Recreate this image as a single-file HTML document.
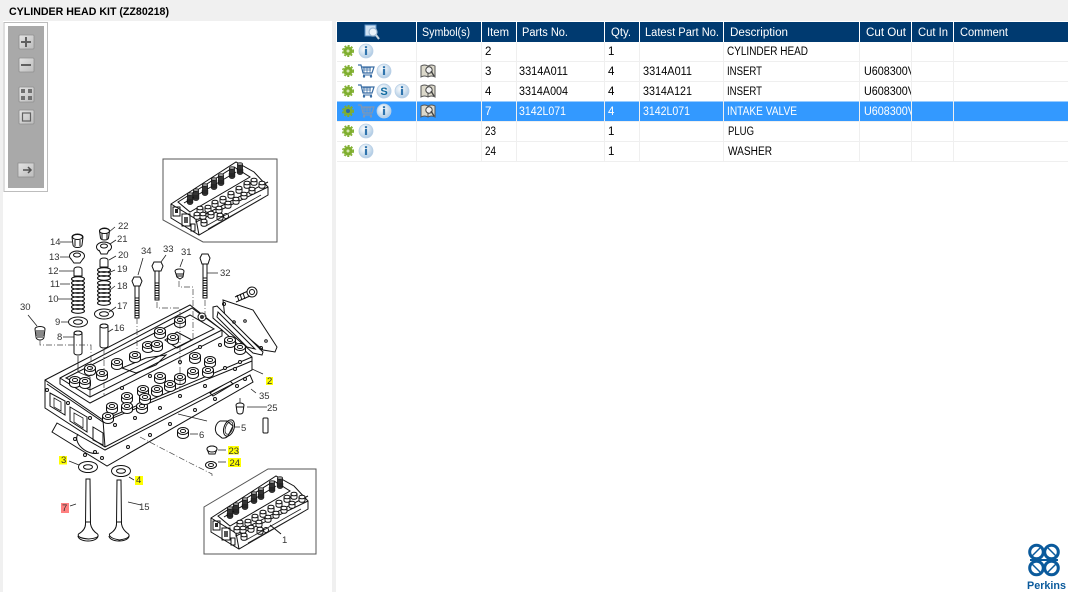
<!DOCTYPE html>
<html><head><meta charset="utf-8"><style>
html,body{margin:0;padding:0;background:#f0f0f0;width:1068px;height:592px;overflow:hidden}
svg{display:block}
.t{font:11.500px "Liberation Sans",sans-serif;fill:#000}
.h{font:11.500px "Liberation Sans",sans-serif;fill:#fff}
.w{font:11.500px "Liberation Sans",sans-serif;fill:#fff}
.l{font:9.500px "Liberation Sans",sans-serif;fill:#333}
.d{fill:#fff;stroke:#111;stroke-width:1}
.n{fill:none;stroke:#111;stroke-width:1}
.f{fill:none;stroke:#222;stroke-width:.8}
.k{fill:none;stroke:#444;stroke-width:.7;stroke-dasharray:6 2 1 2}
</style></head><body>
<svg width="1068" height="592" viewBox="0 0 1068 592" xmlns="http://www.w3.org/2000/svg">
<defs>
<clipPath id="co"><rect x="860" y="42" width="51" height="100"/></clipPath>
<radialGradient id="ig" cx=".4" cy=".35" r=".7"><stop offset="0" stop-color="#fff"/><stop offset="1" stop-color="#a9c7e2"/></radialGradient>
<linearGradient id="bt" x1="0" y1="0" x2="1" y2="1"><stop offset="0" stop-color="#e4e4e4"/><stop offset="1" stop-color="#bcbcbc"/></linearGradient>
<g id="gear"><circle r="4.600" fill="#7fae2e"/><circle r="5.300" fill="none" stroke="#7fae2e" stroke-width="1.400" stroke-dasharray="2 1.500"/><circle r="1.500" fill="#d5e6ae"/></g>
<g id="info"><circle r="7" fill="url(#ig)" stroke="#b9d0e6" stroke-width=".8"/><rect x="-1.100" y="-2" width="2.200" height="6" fill="#2f74ad"/><rect x="-1.100" y="-4.800" width="2.200" height="2" fill="#2f74ad"/></g>
<g id="cart"><path d="M-8-5h3l2 8h9l2-6H-4" fill="none" stroke="currentColor" stroke-width="1.200"/><path d="M-3-2h8M-3 0h8M-2-3v6M1-3v6M4-3v6" stroke="currentColor" stroke-width=".7" fill="none"/><path d="M-3 5h9" stroke="currentColor" stroke-width="1"/><circle cx="-2" cy="6.500" r="1.200" fill="currentColor"/><circle cx="5" cy="6.500" r="1.200" fill="currentColor"/></g>
<g id="book"><path d="M-7-5q3.500-2 7 0q3.500-2 7 0v11q-3.500-2-7 0q-3.500-2-7 0z" fill="#dcd9cb" stroke="#555" stroke-width="1"/><path d="M0-5v11" stroke="#555"/><circle cx="1" cy="-1" r="3.200" fill="#f4f4f4" stroke="#444" stroke-width="1"/><path d="M3 0l3 5" stroke="#444" stroke-width="1.400"/></g>
<g id="b"><path d="M-5.500 0v4a5.500 3.500 0 0 0 11 0v-4" class="d"/><ellipse rx="5.500" ry="3.500" class="d"/><ellipse rx="2.600" ry="1.600" class="n"/></g>
<g id="h"><circle r="1.500" class="d"/></g>
<g id="sp"><ellipse rx="6.500" ry="2.300" fill="none" stroke="#111" stroke-width="1.100"/></g>
<g id="m"><path d="M-3 0v3.500a3 1.800 0 0 0 6 0v-3.500" fill="#fff" stroke="#111" stroke-width="1"/><ellipse rx="3" ry="1.800" fill="#fff" stroke="#111" stroke-width="1"/></g>
<g id="v"><path d="M-2.500-5h5v9a2.500 1.500 0 0 1-5 0z" fill="#333" stroke="#111" stroke-width=".8"/><ellipse cy="-5" rx="2.500" ry="1.300" fill="#999" stroke="#111" stroke-width=".6"/><path d="M-3.500 1h7M-3.500 3h7" stroke="#111" stroke-width=".8"/></g>
<g id="mini">
<path d="M171 204L236 162L254 172L268 187V195L199 235L171 218Z" class="d"/>
<path d="M171 204L196 219L268 182M196 219L199 235M178 202L234 167L250 177L190 212ZM184 203L236 172M196 219L196 222L268 187" class="n"/>
<rect x="173" y="207" width="7" height="9" class="n" fill="#666"/><path d="M175 209h3v4h-3z" fill="#222"/><rect x="182" y="214" width="8" height="12" class="n"/><path d="M184 217h4v6h-4z" fill="#555"/><rect x="191" y="224" width="4" height="7" class="n"/>
<use href="#v" x="190" y="199"/><use href="#v" x="196" y="195"/><use href="#v" x="205" y="190"/><use href="#v" x="214" y="184"/><use href="#v" x="221" y="180"/><use href="#v" x="232" y="173"/><use href="#v" x="240" y="169"/>
<use href="#m" x="200" y="208"/><use href="#m" x="208" y="207"/><use href="#m" x="215" y="202"/><use href="#m" x="223" y="198"/><use href="#m" x="231" y="193"/><use href="#m" x="239" y="188"/><use href="#m" x="247" y="183"/><use href="#m" x="254" y="180"/><use href="#m" x="262" y="183"/>
<use href="#m" x="203" y="214"/><use href="#m" x="211" y="213"/><use href="#m" x="219" y="208"/><use href="#m" x="228" y="203"/><use href="#m" x="236" y="199"/><use href="#m" x="244" y="194"/><use href="#m" x="252" y="189"/><use href="#m" x="204" y="221"/><use href="#m" x="220" y="215"/><use href="#m" x="197" y="214"/>
<path d="M206 226l55-31M208 229l55-31" class="f"/><circle cx="226" cy="216" r="2.500" class="n"/>
</g>
</defs>

<!-- panels -->
<rect x="3" y="21" width="329" height="571" fill="#fff"/>
<rect x="336" y="21" width="732" height="571" fill="#fff"/>
<text x="9" y="15" font-family="Liberation Sans" font-size="11" font-weight="bold" fill="#000" textLength="160" lengthAdjust="spacingAndGlyphs">CYLINDER HEAD KIT (ZZ80218)</text>

<!-- toolbar -->
<rect x="4" y="22.500" width="43.500" height="169" fill="#fff" stroke="#bdbdbd"/>
<rect x="8" y="26" width="36" height="162" fill="#a9a9a9"/>
<g fill="url(#bt)" stroke="#8f8f8f" stroke-width=".8">
<rect x="19" y="35" width="15" height="14" rx="1"/><rect x="19" y="58" width="15" height="14" rx="1"/><rect x="19" y="87" width="15" height="15" rx="1"/><rect x="19" y="110" width="15" height="14" rx="1"/>
<rect x="18" y="163" width="16" height="14"/>
</g>
<path d="M21 42h10M26 37v10" stroke="#606060" stroke-width="2"/><path d="M21 65h10" stroke="#606060" stroke-width="2"/>
<g fill="#707070"><rect x="21" y="89" width="4" height="4"/><rect x="28" y="89" width="4" height="4"/><rect x="21" y="96" width="4" height="4"/><rect x="28" y="96" width="4" height="4"/></g>
<rect x="22.500" y="113" width="8" height="8" fill="none" stroke="#606060" stroke-width="1.200"/>
<path d="M23 170h8m-3-3l3 3-3 3" stroke="#505050" stroke-width="1.500" fill="none"/>

<!-- table -->
<rect x="337" y="22" width="731" height="20" fill="#003a70"/>
<rect x="337" y="101.500" width="731" height="20" fill="#3399ff"/>
<g fill="#efefef">
<rect x="337" y="61" width="731" height="1"/><rect x="337" y="81" width="731" height="1"/><rect x="337" y="121" width="731" height="1"/><rect x="337" y="141" width="731" height="1"/><rect x="337" y="161" width="731" height="1"/>
</g>
<g fill="#fff"><rect x="416" y="22" width="1" height="20"/><rect x="481" y="22" width="1" height="20"/><rect x="516" y="22" width="1" height="20"/><rect x="604" y="22" width="1" height="20"/><rect x="639" y="22" width="1" height="20"/><rect x="723" y="22" width="1" height="20"/><rect x="859" y="22" width="1" height="20"/><rect x="911" y="22" width="1" height="20"/><rect x="953" y="22" width="1" height="20"/></g>
<g fill="#efefef"><rect x="416" y="42" width="1" height="120"/><rect x="481" y="42" width="1" height="120"/><rect x="516" y="42" width="1" height="120"/><rect x="604" y="42" width="1" height="120"/><rect x="639" y="42" width="1" height="120"/><rect x="723" y="42" width="1" height="120"/><rect x="859" y="42" width="1" height="120"/><rect x="911" y="42" width="1" height="120"/><rect x="953" y="42" width="1" height="120"/></g>

<!-- header -->
<g transform="translate(372,32)"><rect x="-7" y="-7" width="11" height="11" fill="#cfe2f3" stroke="#5b93c7"/><circle cx="1" cy="0" r="4" fill="#e9f2fa" stroke="#9db9d3" stroke-width="1.200"/><path d="M4 3l3 4" stroke="#c8d4de" stroke-width="2"/></g>
<text class="h" x="422" y="36" textLength="48" lengthAdjust="spacingAndGlyphs">Symbol(s)</text>
<text class="h" x="487" y="36" textLength="22" lengthAdjust="spacingAndGlyphs">Item</text>
<text class="h" x="522" y="36" textLength="46" lengthAdjust="spacingAndGlyphs">Parts No.</text>
<text class="h" x="611" y="36" textLength="20" lengthAdjust="spacingAndGlyphs">Qty.</text>
<text class="h" x="645" y="36" textLength="74" lengthAdjust="spacingAndGlyphs">Latest Part No.</text>
<text class="h" x="730" y="36" textLength="58" lengthAdjust="spacingAndGlyphs">Description</text>
<text class="h" x="866" y="36" textLength="40" lengthAdjust="spacingAndGlyphs">Cut Out</text>
<text class="h" x="918" y="36" textLength="30" lengthAdjust="spacingAndGlyphs">Cut In</text>
<text class="h" x="960" y="36" textLength="48" lengthAdjust="spacingAndGlyphs">Comment</text>

<!-- rows -->
<text class="t" x="485" y="55">2</text><text class="t" x="608" y="55">1</text><text class="t" x="727" y="55" textLength="81" lengthAdjust="spacingAndGlyphs">CYLINDER HEAD</text>
<text class="t" x="485" y="75">3</text><text class="t" x="519" y="75" textLength="49" lengthAdjust="spacingAndGlyphs">3314A011</text><text class="t" x="608" y="75">4</text><text class="t" x="643" y="75" textLength="49" lengthAdjust="spacingAndGlyphs">3314A011</text><text class="t" x="727" y="75" textLength="35" lengthAdjust="spacingAndGlyphs">INSERT</text>
<text class="t" x="485" y="95">4</text><text class="t" x="519" y="95" textLength="49" lengthAdjust="spacingAndGlyphs">3314A004</text><text class="t" x="608" y="95">4</text><text class="t" x="643" y="95" textLength="49" lengthAdjust="spacingAndGlyphs">3314A121</text><text class="t" x="727" y="95" textLength="35" lengthAdjust="spacingAndGlyphs">INSERT</text>
<text class="w" x="485" y="115">7</text><text class="w" x="519" y="115" textLength="47" lengthAdjust="spacingAndGlyphs">3142L071</text><text class="w" x="608" y="115">4</text><text class="w" x="643" y="115" textLength="47" lengthAdjust="spacingAndGlyphs">3142L071</text><text class="w" x="727" y="115" textLength="70" lengthAdjust="spacingAndGlyphs">INTAKE VALVE</text>
<text class="t" x="485" y="135" textLength="11" lengthAdjust="spacingAndGlyphs">23</text><text class="t" x="608" y="135">1</text><text class="t" x="728" y="135" textLength="26" lengthAdjust="spacingAndGlyphs">PLUG</text>
<text class="t" x="485" y="155" textLength="11" lengthAdjust="spacingAndGlyphs">24</text><text class="t" x="608" y="155">1</text><text class="t" x="728" y="155" textLength="44" lengthAdjust="spacingAndGlyphs">WASHER</text>
<g clip-path="url(#co)"><text class="t" x="864" y="75" textLength="51" lengthAdjust="spacingAndGlyphs">U608300V</text><text class="t" x="864" y="95" textLength="51" lengthAdjust="spacingAndGlyphs">U608300V</text><text class="w" x="864" y="115" textLength="51" lengthAdjust="spacingAndGlyphs">U608300V</text></g>

<!-- row icons -->
<use href="#gear" x="348" y="51"/><use href="#info" x="366" y="51"/>
<use href="#gear" x="348" y="71"/><use href="#cart" x="366" y="70" color="#3a6ea5"/><use href="#info" x="384" y="71"/><use href="#book" x="428" y="71"/>
<use href="#gear" x="348" y="91"/><use href="#cart" x="366" y="90" color="#3a6ea5"/><circle cx="384" cy="91" r="7" fill="url(#ig)" stroke="#b9d0e6"/><text x="384" y="95" text-anchor="middle" font-family="Liberation Sans" font-size="11" font-weight="bold" fill="#0d6aa0">S</text><use href="#info" x="402" y="91"/><use href="#book" x="428" y="91"/>
<use href="#gear" x="348" y="111"/><circle cx="348" cy="111" r="2" fill="#2b6aa8"/><use href="#cart" x="366" y="110" color="#7f97b5"/><use href="#info" x="384" y="111"/><use href="#book" x="428" y="111"/>
<use href="#gear" x="348" y="131"/><use href="#info" x="366" y="131"/><use href="#gear" x="348" y="151"/><use href="#info" x="366" y="151"/>

<!-- Perkins -->
<g fill="none" stroke="#0a5a9c" stroke-width="3">
<circle cx="1036.500" cy="552" r="6.800"/><circle cx="1051.500" cy="552" r="6.800"/><circle cx="1036.500" cy="568" r="6.800"/><circle cx="1051.500" cy="568" r="6.800"/>
<path d="M1032 556l8-8M1056 556l-8-8M1032 564l8 8M1056 564l-8 8" stroke-width="1.500"/>
<path d="M1030 560h28" stroke-width="2"/>
</g>
<text x="1027" y="589" font-family="Liberation Sans" font-size="11" font-weight="bold" fill="#0a5a9c" textLength="39" lengthAdjust="spacingAndGlyphs">Perkins</text>

<!-- inset frames -->
<path d="M163 159H277V242H203L163 220Z" fill="#fff" stroke="#555"/>
<path d="M268 469H316V554H204V507Z" fill="#fff" stroke="#555"/>
<use href="#mini"/>
<use href="#mini" x="40" y="314"/>
<path d="M270 525l11 9" class="n"/>
<text class="l" x="282" y="543">1</text>

<!-- gasket -->
<path d="M52 432L57 423L105 450L250 375L253 382L107 466Z" class="d"/>
<path d="M210 393l20-12 3 3-20 12z" class="n"/>
<circle cx="75" cy="439" r="1.500" class="n"/><circle cx="95" cy="452" r="1.500" class="n"/><circle cx="85" cy="455" r="1.500" class="n"/><circle cx="102" cy="458" r="1.500" class="n"/><circle cx="128" cy="447" r="1.500" class="n"/><circle cx="150" cy="435" r="1.500" class="n"/><circle cx="170" cy="424" r="1.500" class="n"/><circle cx="195" cy="410" r="1.500" class="n"/><circle cx="215" cy="399" r="1.500" class="n"/><circle cx="237" cy="386" r="1.500" class="n"/><circle cx="245" cy="379" r="1.500" class="n"/>
<path d="M78 434a15 10 30 0 0 21 19" class="n"/>
<!-- rear plates -->
<path d="M223 300L253 310L277 347L275 352L263 350L225 318Z" class="d"/>
<path d="M213 307L217 306L263 352L262 355L253 353L213 318Z" class="d"/>
<path d="M218 312L255 349L247 347L217 317Z" class="n"/>
<circle cx="245" cy="321" r="1.300" class="n"/><circle cx="266" cy="341" r="1.300" class="n"/><circle cx="224" cy="304" r="1.500" class="n"/><circle cx="261" cy="348" r="1.500" class="n"/><circle cx="234" cy="322" r="1.300" class="n"/>
<path d="M235 297L248 291M236 302L250 296" class="n"/><path d="M237 295l2 6M240 294l2 6M243 293l2 6" class="n"/><circle cx="252" cy="292" r="5" class="d"/><circle cx="252" cy="292" r="2.500" class="n"/>

<!-- head -->
<path d="M45 380L190 305L222 330L252 357V370L105 447L45 408Z" class="d" stroke-width="1.200"/>
<path d="M45 380L103 420L252 357M103 420L105 447M47 384L103 422L252 361" class="n"/>
<path d="M60 378L192 308L222 330V336L90 403L60 384Z" class="d"/>
<path d="M60 378L90 397L222 330M66 378L190 315L214 329L90 390Z" class="n"/>
<path d="M50 393L65 401V415L50 406ZM70 407L87 417V432L70 421ZM93 427L103 433V445L93 440Z" class="n"/>
<path d="M54 398l7 4v9l-7-4zM74 413l9 5v10l-9-6z" class="f"/>
<circle cx="47" cy="390" r="1.500" class="n"/><circle cx="68" cy="403" r="1.500" class="n"/><circle cx="90" cy="418" r="1.500" class="n"/>
<path d="M122 368l14 5 20-8 10-10-20 3z" class="n"/><path d="M165 340l12-8 15 8-15 8z" class="n"/>

<!-- bosses in rail -->
<use href="#b" x="75" y="380"/><use href="#b" x="85" y="381"/><use href="#b" x="90" y="368"/><use href="#b" x="102" y="373"/><use href="#b" x="117" y="362"/><use href="#b" x="135" y="355"/>
<use href="#b" x="148" y="345"/><use href="#b" x="160" y="331"/><use href="#b" x="173" y="337"/><use href="#b" x="157" y="344"/><use href="#b" x="180" y="320"/>
<circle cx="202" cy="317" r="4" class="d"/><circle cx="202" cy="317" r="2" fill="#333"/>
<circle cx="92" cy="351" r="0" />
<!-- bosses on deck -->
<use href="#b" x="230" y="340"/><use href="#b" x="240" y="347"/><use href="#b" x="195" y="356"/><use href="#b" x="210" y="360"/><use href="#b" x="193" y="371"/><use href="#b" x="208" y="370"/>
<use href="#b" x="180" y="377"/><use href="#b" x="160" y="376"/><use href="#b" x="170" y="384"/><use href="#b" x="157" y="389"/>
<use href="#b" x="127" y="396"/><use href="#b" x="143" y="389"/><use href="#b" x="127" y="406"/><use href="#b" x="142" y="406"/><use href="#b" x="145" y="397"/><use href="#b" x="112" y="406"/><use href="#b" x="108" y="416"/>
<use href="#h" x="220" y="345"/><use href="#h" x="200" y="347"/><use href="#h" x="180" y="362"/><use href="#h" x="150" y="376"/><use href="#h" x="122" y="388"/><use href="#h" x="240" y="362"/><use href="#h" x="225" y="368"/>
<use href="#h" x="115" y="425"/><use href="#h" x="135" y="418"/><use href="#h" x="160" y="408"/><use href="#h" x="180" y="396"/><use href="#h" x="205" y="386"/><use href="#h" x="235" y="369"/>

<!-- left stack -->
<path d="M72 237a5.500 3 0 0 1 11 0l-1 8a4.500 2.500 0 0 1-9 0z" class="d"/><ellipse cx="77.500" cy="237" rx="5" ry="2.500" class="n"/><path d="M75 240v6M80 240v6" class="n"/>
<ellipse cx="77" cy="256" rx="7.500" ry="5" class="d"/><path d="M71 259l3 4h6l3-4" class="d"/><ellipse cx="77" cy="255" rx="3.500" ry="2" class="n"/>
<path d="M74 269v7h8v-7a4 2 0 0 0-8 0z" class="d"/>
<use href="#sp" x="78" y="279"/><use href="#sp" x="78" y="283"/><use href="#sp" x="78" y="287"/>
<use href="#sp" x="78" y="291"/><use href="#sp" x="78" y="295"/><use href="#sp" x="78" y="299"/><use href="#sp" x="78" y="303"/><use href="#sp" x="78" y="307"/><use href="#sp" x="78" y="311"/>
<ellipse cx="78" cy="322" rx="9.500" ry="5" class="d"/><ellipse cx="78" cy="322" rx="4.500" ry="2.300" class="n"/>
<path d="M74 333v20a4 2 0 0 0 8 0v-20a4 2 0 0 0-8 0z" class="d"/><ellipse cx="78" cy="333" rx="4" ry="2" class="n"/>
<path d="M78 356V372M78 372l12 5V397" class="f"/>
<!-- right stack -->
<path d="M99.500 231a5 3 0 0 1 10 0l-1 7a4 2 0 0 1-8 0z" class="d"/><ellipse cx="104.500" cy="231" rx="5" ry="2.500" class="n"/><path d="M102 233v6M107 233v6" class="n"/>
<ellipse cx="104" cy="247" rx="7.500" ry="5" class="d"/><path d="M99 250l2 4h6l2-4" class="d"/><ellipse cx="104" cy="246" rx="3.500" ry="2" class="n"/>
<path d="M100 260v7h8v-7a4 2 0 0 0-8 0z" class="d"/>
<use href="#sp" x="104" y="270"/><use href="#sp" x="104" y="274"/><use href="#sp" x="104" y="278"/>
<use href="#sp" x="104" y="283"/><use href="#sp" x="104" y="287"/><use href="#sp" x="104" y="291"/><use href="#sp" x="104" y="295"/><use href="#sp" x="104" y="299"/><use href="#sp" x="104" y="303"/>
<ellipse cx="104" cy="314" rx="9.500" ry="5" class="d"/><ellipse cx="104" cy="314" rx="4.500" ry="2.300" class="n"/>
<path d="M100 326v20a4 2 0 0 0 8 0v-20a4 2 0 0 0-8 0z" class="d"/><ellipse cx="104" cy="326" rx="4" ry="2" class="n"/>
<path d="M104 349V395" class="k"/>

<!-- plug 30 -->
<path d="M35 329a5 2.500 0 0 1 10 0l-1 8a4 3 0 0 1-8 0z" class="d"/><path d="M36 331h8M36 333h8M36 335h8M37 337h6" class="n"/>
<path d="M40 340V345H91V375" class="k"/>

<!-- bolts -->
<path d="M132 281l2-4h6l2 4-2 5h-6z" class="d"/><path d="M135 286h4V318h-4z" class="d"/><path d="M135 298h4M135 300.500h4M135 303h4M135 305.500h4M135 308h4M135 310.500h4M135 313h4M135 315.500h4" class="n"/>
<path d="M137 318V354" class="k"/>
<path d="M152 266l2-4h7l2 4-2 5h-7z" class="d"/><path d="M155 271h4V300h-4z" class="d"/><path d="M155 283h4M155 285.500h4M155 288h4M155 290.500h4M155 293h4M155 295.500h4M155 298h4" class="n"/>
<path d="M157 302V308H180V390" class="k"/>
<path d="M175 271a4.500 2 0 0 1 9 0l-1 6-3 2-3-2z" class="d"/><path d="M176 274h7M176 276h7" class="n"/>
<path d="M179 281V287H193V340" class="k"/>
<path d="M200 258l2-4h6l2 4-2 6h-6z" class="d"/><path d="M203 264h4V298h-4z" class="d"/><path d="M203 278h4M203 280.500h4M203 283h4M203 285.500h4M203 288h4M203 290.500h4M203 293h4M203 295.500h4" class="n"/>
<path d="M205 300V317" class="k"/>

<!-- lower parts -->
<path d="M240 398V403" class="f"/><path d="M236 405a4 2 0 0 1 8 0l-1 7a3 2 0 0 1-6 0z" class="d"/><path d="M236 407h8" class="n"/>
<rect x="263" y="418" width="5" height="15" rx="1" class="d"/>
<path d="M220 421a9 9 0 0 0-3 13l5 4a7 8 0 0 0 6-2l5-10-6-5z" class="d"/><ellipse cx="229" cy="428" rx="5" ry="8.500" transform="rotate(20 229 428)" class="n"/><ellipse cx="229" cy="428" rx="3.500" ry="6.500" transform="rotate(20 229 428)" class="f"/>
<path d="M207 421L178 414" class="f"/>
<use href="#b" x="183" y="431"/>
<path d="M207 449a5 3 0 0 1 10 0l-2 5h-6z" class="d"/><ellipse cx="212" cy="449" rx="5" ry="3" class="d"/>
<ellipse cx="211" cy="465" rx="5.500" ry="3.500" class="d"/><ellipse cx="211" cy="465" rx="2.500" ry="1.500" class="n"/>
<path d="M140 437L190 463L212 474V476" class="k"/>
<ellipse cx="88" cy="467" rx="9.500" ry="5.500" class="d"/><ellipse cx="88" cy="467" rx="4.500" ry="2.300" class="n"/>
<ellipse cx="121" cy="471" rx="9.500" ry="5.500" class="d"/><ellipse cx="121" cy="471" rx="4.500" ry="2.300" class="n"/>
<!-- valves -->
<path d="M86 479h4l.500 45q1 6 7 10q3 4-9 5q-12-1-10-5q7-4 7-10z" class="d"/><path d="M78 536a10 5 0 0 0 20 0" class="n" stroke-width="1.400"/><path d="M85.500 522h5.500" class="n"/>
<path d="M117 480h4l.500 44q1 6 7 10q3 4-9 6q-11-2-10-6q7-4 7-10z" class="d"/><path d="M109 536a10 5 0 0 0 20 0" class="n" stroke-width="1.400"/><path d="M116.500 522h5.500" class="n"/>

<!-- leaders -->
<path d="M60 242h12M60 257h10M59 271h15M60 284h10M58 299h13M61 322h8M63 337h11M28 315l9 11M115 227l-6 5M116 240l-6 4M116 256l-7 4M115 270l-7 3M115 286l-5 4M116 307l-7 5M113 329l-5 3M143 258l-5 17M166 255l-5 7M183 259l-3 8M218 273h-11M69 461l10 4M134 480l-5-3M70 506l6-2M141 505l-13-3M263 374l-11-5M256 393l-5-4M267 407h-20M240 427h-6M198 434h-8M226 450h-8M226 462h-8" class="f"/>

<!-- highlight boxes -->
<rect x="266" y="377" width="7" height="8" fill="#ffff00"/><rect x="59" y="456" width="8" height="8.500" fill="#ffff00"/><rect x="135" y="476" width="8" height="9" fill="#ffff00"/><rect x="61" y="503" width="8" height="10" fill="#ff8080"/><rect x="228" y="446" width="11" height="8.500" fill="#ffff00"/><rect x="228" y="458" width="13" height="9" fill="#ffff00"/>
<text class="l" x="118" y="229">22</text><text class="l" x="117" y="242">21</text><text class="l" x="118" y="258">20</text><text class="l" x="117" y="272">19</text><text class="l" x="117" y="289">18</text><text class="l" x="117" y="309">17</text><text class="l" x="114" y="331">16</text>
<text class="l" x="50" y="245">14</text><text class="l" x="49" y="260">13</text><text class="l" x="48" y="274">12</text><text class="l" x="50" y="287">11</text><text class="l" x="48" y="302">10</text><text class="l" x="55" y="325">9</text><text class="l" x="57" y="340">8</text><text class="l" x="20" y="310">30</text>
<text class="l" x="141" y="254">34</text><text class="l" x="163" y="252">33</text><text class="l" x="181" y="255">31</text><text class="l" x="220" y="276">32</text>
<text class="l" x="259" y="399">35</text><text class="l" x="267" y="411">25</text><text class="l" x="241" y="431">5</text><text class="l" x="199" y="438">6</text><text class="l" x="139" y="510">15</text>
<text class="l" x="267" y="384">2</text><text class="l" x="61" y="463">3</text><text class="l" x="136" y="483">4</text><text class="l" x="62" y="511">7</text><text class="l" x="228.500" y="454">23</text><text class="l" x="229.500" y="466">24</text>
</svg>
</body></html>
